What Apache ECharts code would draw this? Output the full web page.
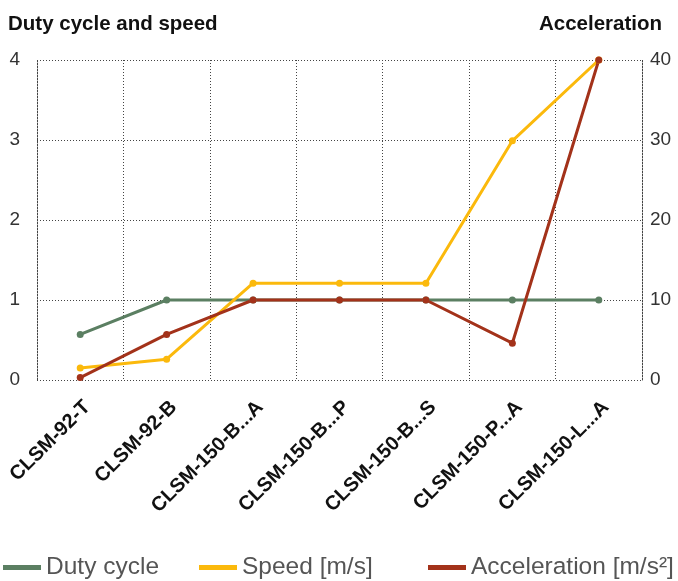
<!DOCTYPE html>
<html>
<head>
<meta charset="utf-8">
<script src="https://cdn.jsdelivr.net/npm/echarts@6/dist/echarts.min.js"></script>
<style>
  html, body { margin: 0; padding: 0; background: #fff; }
  #chart { width: 678px; height: 581px; }
</style>
</head>
<body>
<div id="chart"></div>
<script>
'use strict'

var categories = ['CLSM-92-T', 'CLSM-92-B', 'CLSM-150-B...A', 'CLSM-150-B...P', 'CLSM-150-B...S', 'CLSM-150-P...A', 'CLSM-150-L...A'];
var dutyCycle = [0.57, 1, 1, 1, 1, 1, 1];
var speed = [0.15, 0.26, 1.21, 1.21, 1.21, 2.99, 4.0];
var acceleration = [0.3, 5.7, 10, 10, 10, 4.6, 40];
var leftTicks = [0, 1, 2, 3, 4];
var rightTicks = [0, 10, 20, 30, 40];
var seriesNames = ['Duty cycle', 'Speed [m/s]', 'Acceleration [m/s²]'];

var fontName = '"Liberation Sans", Arial, sans-serif';
var dotted = { color: '#444', type: [1, 2], width: 1 };

function legendAt(name, left) {
    return {
        bottom: 1,
        left: left,
        padding: 0,
        itemWidth: 38,
        itemHeight: 5,
        icon: 'rect',
        textStyle: { fontSize: 24.5, color: '#555', fontFamily: fontName },
        data: [name]
    };
}

var myChart = echarts.init(document.getElementById('chart'));
var option = {
    animation: false,
    textStyle: { fontFamily: fontName },
    title: [
        { text: 'Duty cycle and speed', left: 3, top: 9,
          textStyle: { fontSize: 20.5, fontWeight: 'bold', color: '#111', fontFamily: fontName } },
        { text: 'Acceleration', right: 11, top: 9,
          textStyle: { fontSize: 20.5, fontWeight: 'bold', color: '#111', fontFamily: fontName } }
    ],
    color: ['#5b7f62', '#fbb90c', '#a3321a'],
    legend: [
        legendAt(seriesNames[0], 3),
        legendAt(seriesNames[1], 199),
        legendAt(seriesNames[2], 428)
    ],
    grid: { left: 37, right: 36, top: 60, bottom: 201, containLabel: false },
    xAxis: {
        type: 'category',
        data: categories,
        boundaryGap: true,
        axisLine: { show: false },
        axisTick: { show: false },
        splitLine: { show: true, lineStyle: dotted },
        axisLabel: { rotate: 45, interval: 0, margin: 17, verticalAlign: 'top',
                     fontSize: 20, fontWeight: 'bold', color: '#111', fontFamily: fontName }
    },
    yAxis: [
        {
            type: 'value', min: leftTicks[0], max: leftTicks[leftTicks.length - 1], interval: 1,
            axisLine: { show: true, lineStyle: dotted },
            axisTick: { show: false },
            splitLine: { show: true, lineStyle: dotted },
            axisLabel: { fontSize: 19, color: '#333', margin: 17, fontFamily: fontName }
        },
        {
            type: 'value', min: rightTicks[0], max: rightTicks[rightTicks.length - 1], interval: 10,
            axisLine: { show: true, lineStyle: dotted },
            axisTick: { show: false },
            splitLine: { show: false },
            axisLabel: { fontSize: 19, color: '#333', margin: 8, fontFamily: fontName }
        }
    ],
    series: [
        { name: seriesNames[0], type: 'line', yAxisIndex: 0, data: dutyCycle,
          symbol: 'circle', symbolSize: 7, lineStyle: { width: 3 } },
        { name: seriesNames[1], type: 'line', yAxisIndex: 0, data: speed,
          symbol: 'circle', symbolSize: 7, lineStyle: { width: 3 } },
        { name: seriesNames[2], type: 'line', yAxisIndex: 1, data: acceleration,
          symbol: 'circle', symbolSize: 7, lineStyle: { width: 3 } }
    ]
};
myChart.setOption(option);
</script>
</body>
</html>
